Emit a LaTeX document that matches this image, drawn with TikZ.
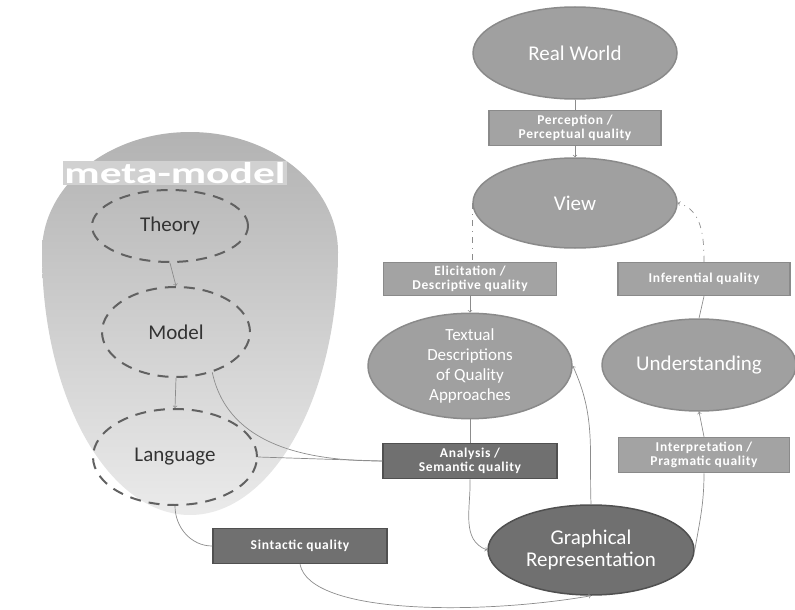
\documentclass[tikz,border=0pt]{standalone}
\usepackage{fontspec}
\setmainfont{Carlito}
\usepackage{tikz}
\usetikzlibrary{shapes.geometric}
\definecolor{midgray}{HTML}{A0A0A0}
\definecolor{midedge}{HTML}{8A8A8A}
\definecolor{darkfill}{HTML}{707070}
\definecolor{darkedge}{HTML}{505050}
\definecolor{linegray}{HTML}{8C8C8C}
\tikzstyle{worldell} = [ellipse, draw=midedge, fill=midgray, line width=1.5pt, inner sep=0pt,
    text=white, font=\fontsize{21}{22}\selectfont, align=center]
\tikzstyle{metaell} = [ellipse, draw=darkedge!90, dash pattern=on 11pt off 8pt, line width=2pt,
    inner sep=0pt, font=\fontsize{21}{22}\selectfont, text=black!80]
\tikzstyle{qualbox} = [rectangle, draw=midedge, fill=midgray!97, line width=1.5pt, inner sep=2pt,
    text=white, font=\bfseries\fontsize{13.5}{14.5}\selectfont\addfontfeature{LetterSpace=5}, align=center]
\tikzstyle{darkbox} = [qualbox, draw=darkedge, fill=darkfill]
\tikzstyle{conn} = [draw=linegray, line width=0.7pt]
\tikzstyle{dashconn} = [conn, dash pattern=on 6pt off 5pt on 1pt off 5pt]

\begin{document}
\begin{tikzpicture}[x=1pt, y=-1pt, >=to]
\useasboundingbox (0,0) rectangle (795,610);
% meta-model area (egg shape, wider at the top)
\shade [top color=black!30, bottom color=black!8] (42,252)
    arc [start angle=180, end angle=360, x radius=148, y radius=120]
    arc [start angle=0, end angle=180, x radius=148, y radius=263] -- cycle;
\node [text=white, fill=black!18, inner sep=1pt, font=\bfseries\fontsize{30}{32}\selectfont] (meta) at (175,173)
    {\scalebox{1.45}[1]{meta-model}};
\node [metaell, minimum width=156, minimum height=72] (theory) at (170,226) {Theory};
\node [metaell, minimum width=148, minimum height=90] (model) at (176,332) {Model};
\node [metaell, minimum width=164, minimum height=96] (lang) at (175,457) {Language};
\draw [conn,->] (theory.south) -- (model.north);
\draw [conn,->] (model.south) -- (lang.north);

% right column
\node [worldell, minimum width=204, minimum height=92] (world) at (575,53) {Real World};
\node [qualbox, minimum width=172, minimum height=35] (perc) at (575,128) {Perception /\\Perceptual quality};
\node [worldell, minimum width=204, minimum height=90] (view) at (575,203) {View};
\node [qualbox, minimum width=173, minimum height=33] (elic) at (470,279) {Elicitation /\\Descriptive quality};
\node [qualbox, minimum width=172, minimum height=33] (infer) at (704,279) {Inferential quality};
\node [worldell, minimum width=204, minimum height=94, font=\fontsize{17}{20}\selectfont] (text) at (470,366)
    {Textual\\Descriptions\\of Quality\\Approaches};
\node [worldell, minimum width=194, minimum height=92] (und) at (699,365) {Understanding};
\node [darkbox, minimum width=174, minimum height=35] (anal) at (470,461) {Analysis /\\Semantic quality};
\node [qualbox, minimum width=171, minimum height=35] (interp) at (704,455) {Interpretation /\\Pragmatic quality};
\node [worldell, draw=darkedge, fill=darkfill, minimum width=206, minimum height=90] (graph) at (591,550)
    {Graphical\\Representation};
\node [darkbox, minimum width=174, minimum height=35] (sint) at (300,546) {Sintactic quality};

% connectors
\draw [conn] (world.south) -- (perc.north);
\draw [conn,->] (perc.south) -- (view.north);
\draw [dashconn] (view.west) -- (view.west |- elic.north);
\draw [conn,->] (elic.south) -- (text.north);
\draw [dashconn,->] (infer.north) to[out=90, in=-15] (view.east);
\draw [conn] (und.north) -- (infer.south);
\draw [conn] (text.south) -- (anal.north);
\draw [conn,->] (anal.south) to[out=-88, in=160] (graph.west);
\draw [conn,->] (graph.north) to[out=92, in=-65] (text.east);
\draw [conn] (graph.east) to[out=80, in=-90] (interp.south);
\draw [conn,->] (interp.north) -- (und.south);
\draw [conn] (model.-48) to[out=-78, in=180] (anal.west);
\draw [conn] (lang.east) -- (anal.west);
\draw [conn] (lang.south) to[out=-90, in=180] (sint.west);
\draw [conn,->] (sint.south) .. controls (310,615) and (480,615) .. (graph.south);
\end{tikzpicture}
\end{document}
